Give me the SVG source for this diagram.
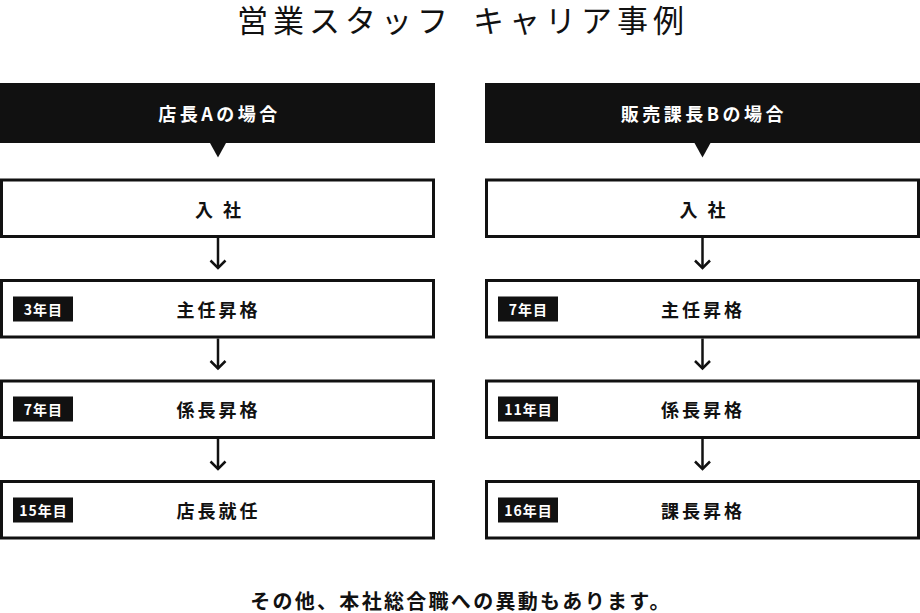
<svg xmlns="http://www.w3.org/2000/svg" width="920" height="613" viewBox="0 0 920 613">
<style>
text{font-family:"Noto Sans CJK JP","Noto Sans",sans-serif;fill:#111}
.title{font-size:31px;font-weight:400;letter-spacing:5px}
.hdr rect{fill:#111}
.hdr text{fill:#fff;font-size:18px;font-weight:700;letter-spacing:3.5px;text-anchor:middle;dominant-baseline:central}
.box rect.frame{fill:#fff;stroke:#111;stroke-width:3}
.box text.lbl{font-size:18px;font-weight:700;letter-spacing:3px;text-anchor:middle;dominant-baseline:central}
.badge rect{fill:#111}
.badge text{fill:#fff;font-size:14px;font-weight:700;letter-spacing:1px;text-anchor:middle;dominant-baseline:central}
.conn line,.conn polyline{fill:none;stroke:#111;stroke-width:2.5}
.tri{fill:#111}
.note{font-size:20px;font-weight:700;letter-spacing:2.3px;text-anchor:middle;dominant-baseline:central}
</style>
<rect width="920" height="613" fill="#fff"/>
<text class="title" x="237" y="32">営業スタッフ<tspan dx="8"> キャリア事例</tspan></text>

<g id="hdrA" class="hdr">
<rect x="0" y="83" width="435" height="60"/>
<text x="219.5" y="113">店長Aの場合</text>
</g>
<g id="hdrB" class="hdr">
<rect x="485" y="83" width="435" height="60"/>
<text x="704" y="113">販売課長Bの場合</text>
</g>

<g id="a1" class="box"><rect class="frame" x="1.5" y="180" width="432" height="56.5"/><text class="lbl" x="219.5" y="208.5">入 社</text></g>
<g id="a2" class="box"><rect class="frame" x="1.5" y="280.5" width="432" height="56.5"/><g class="badge"><rect x="13" y="296.5" width="60" height="25"/><text x="43.5" y="309">3年目</text></g><text class="lbl" x="218.5" y="309">主任昇格</text></g>
<g id="a3" class="box"><rect class="frame" x="1.5" y="381" width="432" height="56.5"/><g class="badge"><rect x="13" y="396.5" width="60" height="25"/><text x="43.5" y="409">7年目</text></g><text class="lbl" x="218.5" y="409">係長昇格</text></g>
<g id="a4" class="box"><rect class="frame" x="1.5" y="481.5" width="432" height="56.5"/><g class="badge"><rect x="13" y="497.5" width="60" height="25"/><text x="43.5" y="510">15年目</text></g><text class="lbl" x="218.5" y="510">店長就任</text></g>

<g id="b1" class="box"><rect class="frame" x="486.5" y="180" width="432" height="56.5"/><text class="lbl" x="704" y="208.5">入 社</text></g>
<g id="b2" class="box"><rect class="frame" x="486.5" y="280.5" width="432" height="56.5"/><g class="badge"><rect x="498" y="296.5" width="60" height="25"/><text x="528.5" y="309">7年目</text></g><text class="lbl" x="703" y="309">主任昇格</text></g>
<g id="b3" class="box"><rect class="frame" x="486.5" y="381" width="432" height="56.5"/><g class="badge"><rect x="498" y="396.5" width="60" height="25"/><text x="528.5" y="409">11年目</text></g><text class="lbl" x="703" y="409">係長昇格</text></g>
<g id="b4" class="box"><rect class="frame" x="486.5" y="481.5" width="432" height="56.5"/><g class="badge"><rect x="498" y="497.5" width="60" height="25"/><text x="528.5" y="510">16年目</text></g><text class="lbl" x="703" y="510">課長昇格</text></g>

<g id="connectors" class="conn">
<polygon class="tri" points="210,143 226,143 218,157.5"/>
<polygon class="tri" points="694.5,143 710.5,143 702.5,157.5"/>
<line x1="218" y1="238" x2="218" y2="268"/><polyline points="210.5,260.5 218,268 225.5,260.5"/>
<line x1="218" y1="338.5" x2="218" y2="368.5"/><polyline points="210.5,361 218,368.5 225.5,361"/>
<line x1="218" y1="439" x2="218" y2="469"/><polyline points="210.5,461.5 218,469 225.5,461.5"/>
<line x1="702.5" y1="238" x2="702.5" y2="268"/><polyline points="695,260.5 702.5,268 710,260.5"/>
<line x1="702.5" y1="338.5" x2="702.5" y2="368.5"/><polyline points="695,361 702.5,368.5 710,361"/>
<line x1="702.5" y1="439" x2="702.5" y2="469"/><polyline points="695,461.5 702.5,469 710,461.5"/>
</g>

<text class="note" x="461" y="600">その他、本社総合職への異動もあります。</text>
</svg>
